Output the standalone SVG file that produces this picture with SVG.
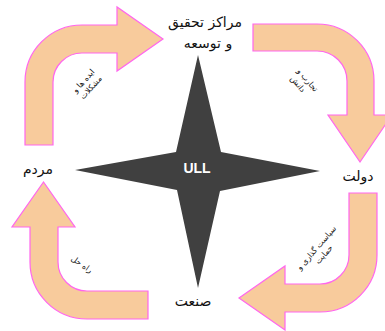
<svg xmlns="http://www.w3.org/2000/svg" width="385" height="331" viewBox="0 0 385 331">
<style>
.arrow{fill:#F8CB9C;stroke:#FF66EE;stroke-width:1.2;stroke-linejoin:miter}
.lbl{font-family:"DejaVu Sans","Noto Sans",sans-serif;font-size:14px;fill:#111;text-anchor:middle}
.sm{font-family:"DejaVu Sans","Noto Sans",sans-serif;font-size:8px;fill:#111;text-anchor:middle}
</style>
<rect width="385" height="331" fill="#ffffff"/>
<g id="connectors">
<path class="arrow" d="M25,145 L25,82 A57,57 0 0 1 82,25 L117,25 L117,7 L163,39 L117,71 L117,53 L82,53 A29,29 0 0 0 53,82 L53,145 Z"/>
<path class="arrow" d="M253,24 L317,24 A57,57 0 0 1 374,81 L374,115 L392,115 L360,162 L328,115 L347,115 L347,81 A30,30 0 0 0 317,51 L253,51 Z"/>
<path class="arrow" d="M349,193 L377,193 L377,255 A57,57 0 0 1 320,312 L285,312 L285,330 L239,298 L285,266 L285,284 L320,284 A29,29 0 0 0 349,255 Z"/>
<path class="arrow" d="M148,291 L87,291 A29,29 0 0 1 58,262 L58,227 L75,227 L43.5,182 L12,227 L30,227 L30,262 A57,57 0 0 0 87,319 L148,319 Z"/>
<g transform="translate(87,84) rotate(-48)">
<text class="sm" x="0" y="-2">ایده ها و</text>
<text class="sm" x="0" y="8">مشکلات</text>
</g>
<g transform="translate(304,83) rotate(50)">
<text class="sm" x="0" y="-2">تجارب و</text>
<text class="sm" x="-3" y="8">دانش</text>
</g>
<g transform="translate(320,251) rotate(-49)">
<text class="sm" x="0" y="-2">سیاست گذاری و</text>
<text class="sm" x="0" y="8">حمایت</text>
</g>
<g transform="translate(82,264) rotate(35)">
<text class="sm" x="0" y="3">راه حل</text>
</g>
</g>
<g id="ull">
<polygon points="198,55 221,152 320,171 220,191 198,288 177,190 75,170 176,152" fill="#404040"/>
<text x="197" y="173" font-family="Liberation Sans, Arial, sans-serif" font-size="14" font-weight="bold" fill="#ffffff" text-anchor="middle">ULL</text>
</g>
<g id="rnd"><text class="lbl" x="205" y="27">مراکز تحقیق</text><text class="lbl" x="208" y="48">و توسعه</text></g>
<g id="people"><text class="lbl" x="38" y="174">مردم</text></g>
<g id="government"><text class="lbl" x="358" y="181">دولت</text></g>
<g id="industry"><text class="lbl" x="193" y="306">صنعت</text></g>
</svg>
